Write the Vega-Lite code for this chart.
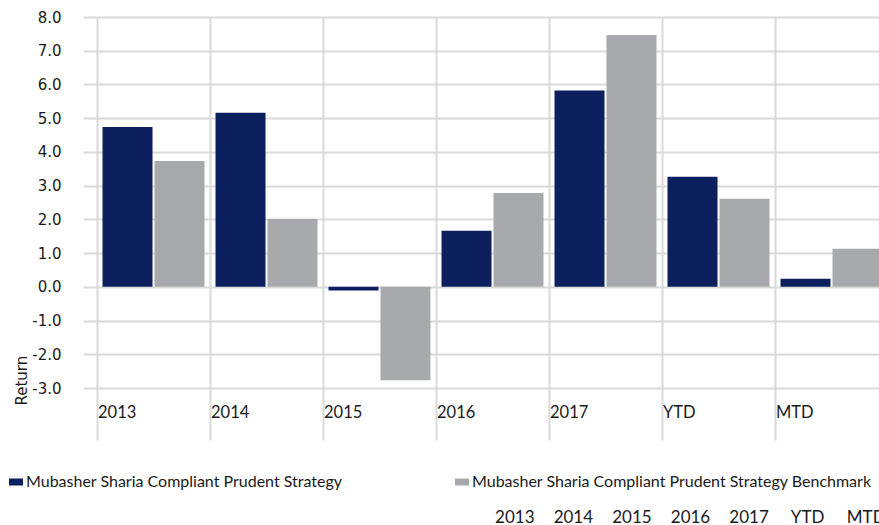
{
  "$schema": "https://vega.github.io/schema/vega-lite/v6.json",
  "width": 782,
  "height": 371,
  "autosize": {"type": "none"},
  "padding": {"left": 97, "top": 17, "right": 0, "bottom": 137},
  "background": "white",
  "config": {"view": {"stroke": null}},
  "data": {
    "values": [
      {"period": "2013", "series": "Mubasher Sharia Compliant Prudent Strategy", "value": 4.74},
      {"period": "2013", "series": "Mubasher Sharia Compliant Prudent Strategy Benchmark", "value": 3.73},
      {"period": "2014", "series": "Mubasher Sharia Compliant Prudent Strategy", "value": 5.16},
      {"period": "2014", "series": "Mubasher Sharia Compliant Prudent Strategy Benchmark", "value": 2.01},
      {"period": "2015", "series": "Mubasher Sharia Compliant Prudent Strategy", "value": -0.11},
      {"period": "2015", "series": "Mubasher Sharia Compliant Prudent Strategy Benchmark", "value": -2.77},
      {"period": "2016", "series": "Mubasher Sharia Compliant Prudent Strategy", "value": 1.66},
      {"period": "2016", "series": "Mubasher Sharia Compliant Prudent Strategy Benchmark", "value": 2.78},
      {"period": "2017", "series": "Mubasher Sharia Compliant Prudent Strategy", "value": 5.82},
      {"period": "2017", "series": "Mubasher Sharia Compliant Prudent Strategy Benchmark", "value": 7.47},
      {"period": "YTD", "series": "Mubasher Sharia Compliant Prudent Strategy", "value": 3.26},
      {"period": "YTD", "series": "Mubasher Sharia Compliant Prudent Strategy Benchmark", "value": 2.61},
      {"period": "MTD", "series": "Mubasher Sharia Compliant Prudent Strategy", "value": 0.24},
      {"period": "MTD", "series": "Mubasher Sharia Compliant Prudent Strategy Benchmark", "value": 1.13}
    ]
  },
  "layer": [
    {
      "mark": {"type": "bar"},
      "encoding": {
        "x": {
          "field": "period",
          "type": "nominal",
          "sort": ["2013", "2014", "2015", "2016", "2017", "YTD", "MTD"],
          "scale": {"range": [0, 791], "paddingInner": 0, "paddingOuter": 0},
          "axis": {
            "title": null,
            "bandPosition": 0,
            "grid": true,
            "gridColor": "#d9d9d9",
            "gridWidth": 2,
            "domain": false,
            "ticks": true,
            "tickSize": 52,
            "tickColor": "#d9d9d9",
            "tickWidth": 2,
            "labelAngle": 0,
            "labelAlign": "left",
            "labelBaseline": "top",
            "labelPadding": -35.5,
            "labelOffset": -55.5,
            "labelFont": "Lato",
            "labelFontSize": 16.5,
            "labelColor": "#1a1a1a",
            "labelFlush": false,
            "labelOverlap": false
          }
        },
        "xOffset": {
          "field": "series",
          "sort": ["Mubasher Sharia Compliant Prudent Strategy", "Mubasher Sharia Compliant Prudent Strategy Benchmark"],
          "scale": {"paddingInner": 0.038, "paddingOuter": 0.106}
        },
        "y": {
          "field": "value",
          "type": "quantitative",
          "scale": {"domain": [-3, 8], "nice": false, "zero": false},
          "axis": {
            "values": [-3, -2, -1, 0, 1, 2, 3, 4, 5, 6, 7, 8],
            "labelExpr": "replace(format(datum.value, '.1f'), '−', '-')",
            "grid": true,
            "gridColor": "#d9d9d9",
            "gridWidth": 2,
            "domain": false,
            "tickSize": 14,
            "tickColor": "#d9d9d9",
            "tickWidth": 2,
            "labelPadding": 22,
            "labelFont": "DejaVu Sans",
            "labelFontSize": 15,
            "labelColor": "#1a1a1a",
            "title": "Return",
            "titleFont": "DejaVu Sans",
            "titleFontSize": 15,
            "titleFontWeight": "normal",
            "titleColor": "#1a1a1a",
            "titleAngle": -90,
            "titleAlign": "left",
            "titleBaseline": "alphabetic",
            "titleX": -71,
            "titleY": 388
          }
        },
        "color": {
          "field": "series",
          "type": "nominal",
          "scale": {
            "domain": ["Mubasher Sharia Compliant Prudent Strategy", "Mubasher Sharia Compliant Prudent Strategy Benchmark"],
            "range": ["#0c1f5e", "#a8a9ad"]
          },
          "legend": {
            "orient": "none",
            "legendX": -89,
            "legendY": 457,
            "direction": "horizontal",
            "columns": 2,
            "columnPadding": 111,
            "title": null,
            "symbolType": "M-1,-0.5H1V0.5H-1Z",
            "symbolSize": 196,
            "symbolStrokeWidth": 0,
            "labelFont": "Lato",
            "labelFontSize": 16,
            "labelColor": "#1a1a1a",
            "labelOffset": 2,
            "labelLimit": 0,
            "padding": 0
          }
        }
      }
    },
    {
      "mark": {"type": "point", "opacity": 0},
      "encoding": {
        "x": {
          "field": "period",
          "type": "nominal",
          "sort": ["2013", "2014", "2015", "2016", "2017", "YTD", "MTD"],
          "scale": {"range": [388, 798], "paddingInner": 0, "paddingOuter": 0},
          "axis": {
            "title": null,
            "orient": "bottom",
            "offset": 118,
            "grid": false,
            "domain": false,
            "ticks": false,
            "labelAngle": 0,
            "labelAlign": "center",
            "labelBaseline": "top",
            "labelPadding": 3,
            "labelFont": "Lato",
            "labelFontSize": 17,
            "labelColor": "#1a1a1a",
            "labelOverlap": false
          }
        }
      }
    }
  ],
  "resolve": {"scale": {"x": "independent"}, "axis": {"x": "independent"}}
}
